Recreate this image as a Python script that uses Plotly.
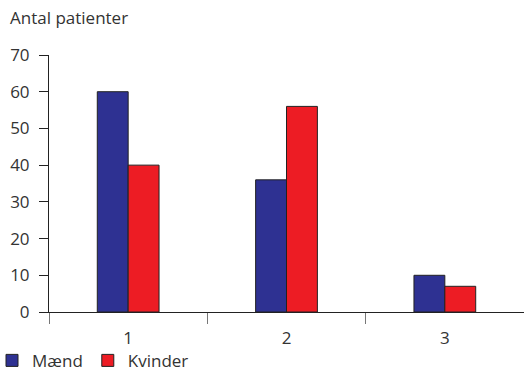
import plotly.graph_objects as go

categories = ["1", "2", "3"]
maend = [60, 36, 10]
kvinder = [40, 56, 7]
y_ticks = [0, 10, 20, 30, 40, 50, 60, 70]

font_family = "Open Sans, DejaVu Sans, sans-serif"
text_color = "#333333"

fig = go.Figure()
fig.add_trace(go.Bar(
    x=categories, y=maend, name="Mænd",
    marker=dict(color="#2e3192", line=dict(color="#222222", width=1)),
))
fig.add_trace(go.Bar(
    x=categories, y=kvinder, name="Kvinder",
    marker=dict(color="#ed1c24", line=dict(color="#222222", width=1)),
))

fig.update_layout(
    width=524, height=371,
    margin=dict(l=49, r=0, t=55, b=59, autoexpand=False),
    paper_bgcolor="white", plot_bgcolor="white",
    barmode="group", bargap=0.61, bargroupgap=0,
    font=dict(family=font_family, size=17, color=text_color),
    showlegend=True,
    legend=dict(
        orientation="h", x=-0.12, xanchor="left", y=-0.19, yanchor="middle",
        font=dict(size=17, color=text_color), itemwidth=30,
        bgcolor="rgba(0,0,0,0)",
    ),
    annotations=[dict(
        text="Antal patienter", xref="paper", yref="paper",
        x=-0.087, y=1.145, xanchor="left", yanchor="middle",
        showarrow=False, font=dict(size=17, color=text_color),
    )],
)

fig.update_xaxes(
    type="category", range=[-0.5, 2.5],
    showline=True, linecolor="#222222", linewidth=1,
    ticks="outside", tickson="boundaries", ticklen=11, tickcolor="#777777",
    tickfont=dict(size=17, color=text_color), ticklabelstandoff=11,
    showgrid=False, zeroline=False,
)
fig.update_yaxes(
    range=[0, 70], tickvals=y_ticks,
    showline=True, linecolor="#222222", linewidth=1,
    ticks="outside", ticklen=9, tickcolor="#222222",
    tickfont=dict(size=17, color=text_color), ticklabelstandoff=6,
    showgrid=False, zeroline=False,
)

fig.write_html("out.html")
